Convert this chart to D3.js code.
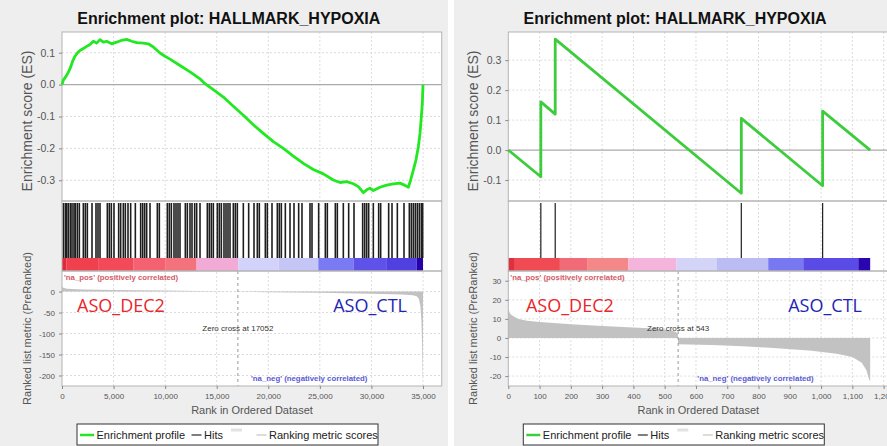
<!DOCTYPE html>
<html>
<head>
<meta charset="utf-8">
<script src="https://cdn.jsdelivr.net/npm/d3@7"></script>
<style>
  body { margin: 0; background: #ffffff; }
  svg { display: block; }
</style>
</head>
<body>
<svg id="chart" width="887" height="446"></svg>
<script>
// GSEA enrichment plots for HALLMARK_HYPOXIA, two pre-ranked lists (ASO_DEC2 vs ASO_CTL)
const titleText = "Enrichment plot: HALLMARK_HYPOXIA";

// ---------- Panel 1: full ranked list ----------
const leftListSize = 35000;
const leftXMax = 36813;
const leftXTicks = [0, 5000, 10000, 15000, 20000, 25000, 30000, 35000];
const leftEsTicks = [0.1, 0.0, -0.1, -0.2, -0.3];
const leftMetricTicks = [0, -50, -100, -150, -200];
const leftZeroCross = 17052;

const leftEsRanks = [0, 129, 452, 679, 840, 1034, 1260, 1487, 1745, 2068, 2391, 2715, 3038, 3361, 3684,
  4007, 4331, 4815, 5300, 5785, 6270, 6754, 7239, 7885, 8370, 8855, 9501, 9986, 10471, 11440, 12410,
  13380, 13864, 14672, 15642, 16611, 17581, 18550, 19520, 20489, 21459, 22428, 23398, 24367, 25337,
  26306, 26952, 27599, 28245, 28730, 29215, 29538, 29861, 30185, 30831, 31477, 32124, 32770, 33255,
  33578, 33804, 34063, 34321, 34548, 34710, 34839, 34936, 35000];
const leftEsValues = [0.0, 0.014, 0.029, 0.043, 0.055, 0.074, 0.089, 0.099, 0.107, 0.113, 0.120, 0.126,
  0.136, 0.130, 0.141, 0.133, 0.136, 0.128, 0.133, 0.139, 0.142, 0.136, 0.132, 0.130, 0.128, 0.118,
  0.099, 0.089, 0.080, 0.060, 0.040, 0.018, 0.003, -0.016, -0.039, -0.068, -0.096, -0.126, -0.153,
  -0.179, -0.200, -0.224, -0.247, -0.266, -0.280, -0.299, -0.307, -0.304, -0.311, -0.320, -0.339,
  -0.330, -0.325, -0.332, -0.322, -0.315, -0.311, -0.309, -0.316, -0.322, -0.299, -0.268, -0.236,
  -0.195, -0.153, -0.101, -0.059, 0.0];

const leftHitRanks = [129, 323, 452, 614, 808, 970, 1163, 1293, 1487, 1681, 2068, 2262, 2456, 2909,
  3296, 3490, 3684, 4395, 4589, 4783, 5042, 5494, 5688, 5946, 6140, 6399, 6657, 7110, 7627, 7821,
  8015, 8209, 8532, 9243, 9437, 10212, 10406, 10600, 10859, 11053, 11247, 11440, 11958, 12151,
  12410, 12604, 12862, 13056, 13380, 14090, 14284, 14478, 14672, 15060, 15254, 15448, 15706, 15900,
  16094, 16288, 16611, 16805, 16999, 17581, 18098, 18615, 18938, 19132, 19714, 19907, 20360, 20877,
  21071, 21265, 21653, 22105, 22493, 22945, 23268, 24044, 24238, 24884, 25531, 25725, 26500, 26694,
  27276, 27793, 28310, 29150, 29344, 29538, 29732, 30185, 30702, 30896, 31671, 31995, 32512, 33158,
  33675, 33869, 34063, 34257, 34451, 34645, 34839, 34968];

const leftMetricRanks = [0, 100, 500, 2000, 5000, 10000, 15000, 17051, 17052, 20000, 25000, 30000,
  33000, 34000, 34400, 34600, 34750, 34850, 34920, 34970, 35000];
const leftMetricValues = [13, 9, 7, 5, 4, 2.5, 1, 0.3, -0.5, -1.5, -3, -5, -7, -9, -11, -18, -35,
  -70, -130, -190, -212];

const leftBarStarts = [0, 450, 3500, 6900, 10000, 13050, 17100, 21000, 24850, 28250, 31500, 34400];
const leftBarColors = ["#e02a3a", "#f0404e", "#f24a58", "#f46272", "#f4727e", "#f2aad6", "#d2d2fa",
  "#c6c6f6", "#7a7af2", "#5e52e8", "#5040e0", "#2600a8"];

// ---------- Panel 2: filtered ranked list ----------
const rightListSize = 1157;
const rightXMax = 1214;
const rightXTicks = [0, 100, 200, 300, 400, 500, 600, 700, 800, 900, 1000, 1100, 1200];
const rightEsTicks = [0.3, 0.2, 0.1, 0.0, -0.1];
const rightMetricTicks = [30, 20, 10, 0, -10, -20];
const rightZeroCross = 543;

const rightEsRanks = [0, 104, 104, 150, 150, 745, 745, 1005, 1005, 1157];
const rightEsValues = [0.0, -0.089, 0.161, 0.12, 0.37, -0.144, 0.106, -0.119, 0.13, 0.0];

const rightHitRanks = [104, 150, 745, 1005];

const rightMetricRanks = [0, 5, 10, 30, 60, 100, 200, 300, 400, 480, 530, 542, 543, 650, 750, 860,
  970, 1050, 1100, 1130, 1145, 1152, 1157];
const rightMetricValues = [15.5, 13, 12, 10, 9, 8.4, 7.2, 6.3, 5.5, 4.8, 3.5, 2.5, -3.3, -3.7, -4.3,
  -5.4, -6.7, -8.3, -10, -13, -17, -21, -23];

const rightBarStarts = [0, 21, 165, 254, 384, 538, 666, 831, 943, 1119];
const rightBarColors = ["#e03040", "#f04a52", "#f06a78", "#f48888", "#f4b4dc", "#d4d4f8", "#bcbcf4",
  "#7878f0", "#5a4ae6", "#2a06b0"];

// ---------- Shared layout ----------
const L = { left: 62, right: 441.7, esTop: 32, esBot: 201, hitTop: 203, barTop: 258, barBot: 271, rankBot: 386 };
const fmtLocale = d3.formatLocale({ decimal: ".", thousands: ",", grouping: [3], currency: ["", ""], minus: "-" });
const fmtEs = fmtLocale.format(".1f");
const fmtRank = fmtLocale.format(",d");
const fmtMetric = fmtLocale.format("d");
const sans = "'Liberation Sans', Arial, sans-serif";

const svg = d3.select("#chart");

function drawPanel(p) {
  const g = svg.append("g").attr("transform", `translate(${p.dx},0)`);
  g.append("rect").attr("x", p.bgX).attr("y", 0).attr("width", p.bgW).attr("height", 446).attr("fill", "#eeeeee");

  const x = d3.scaleLinear().domain([0, p.xMax]).range([L.left, L.right]);
  const yEs = d3.scaleLinear().domain(p.esDomain).range([L.esBot, L.esTop]);
  const yM = d3.scaleLinear().domain(p.metricDomain).range([L.rankBot, L.barBot]);

  // white plotting area
  g.append("rect").attr("x", L.left).attr("y", L.esTop).attr("width", L.right - L.left)
    .attr("height", L.rankBot - L.esTop).attr("fill", "#ffffff");

  // dashed grid
  const grid = g.append("g").attr("stroke", "#dcdcdc").attr("stroke-dasharray", "2,2").attr("stroke-width", 1);
  grid.selectAll(".vx").data(p.xTicks.filter(t => t > 0)).join("line")
    .attr("x1", d => x(d)).attr("x2", d => x(d)).attr("y1", L.esTop).attr("y2", L.rankBot);
  grid.selectAll(".hy").data(p.esTicks.filter(t => t !== 0)).join("line")
    .attr("x1", L.left).attr("x2", L.right).attr("y1", d => yEs(d)).attr("y2", d => yEs(d));
  grid.selectAll(".hm").data(p.metricTicks).join("line")
    .attr("x1", L.left).attr("x2", L.right).attr("y1", d => yM(d)).attr("y2", d => yM(d));

  // zero line of the enrichment score
  g.append("line").attr("x1", L.left).attr("x2", L.right).attr("y1", yEs(0)).attr("y2", yEs(0))
    .attr("stroke", "#aaaaaa").attr("stroke-width", 1.2);

  // ranking metric scores
  const metric = p.metricRanks.map((r, i) => [r, p.metricValues[i]]);
  g.append("path").datum(metric)
    .attr("d", d3.area().x(d => x(d[0])).y0(yM(0)).y1(d => yM(d[1])))
    .attr("fill", "#c2c2c2");

  // zero-cross marker
  g.append("line").attr("x1", x(p.zeroCross)).attr("x2", x(p.zeroCross))
    .attr("y1", L.barBot).attr("y2", L.rankBot)
    .attr("stroke", "#999").attr("stroke-dasharray", "3,3");

  // hits
  g.append("g").selectAll("line").data(p.hitRanks).join("line")
    .attr("x1", d => x(d)).attr("x2", d => x(d)).attr("y1", L.hitTop).attr("y2", L.barTop)
    .attr("stroke", "#1e1e1e").attr("stroke-width", p.hitWidth);

  // colour bar of the ranked list
  g.append("g").selectAll("rect").data(p.barStarts).join("rect")
    .attr("x", d => x(d))
    .attr("width", (d, i) => x(i + 1 < p.barStarts.length ? p.barStarts[i + 1] : p.listSize) - x(d))
    .attr("y", L.barTop).attr("height", L.barBot - L.barTop)
    .attr("fill", (d, i) => p.barColors[i]);

  // borders
  const bord = g.append("g").attr("fill", "none").attr("stroke", "#b4b4b4");
  bord.append("rect").attr("x", L.left).attr("y", L.esTop).attr("width", L.right - L.left).attr("height", L.esBot - L.esTop);
  bord.append("rect").attr("x", L.left).attr("y", L.esBot).attr("width", L.right - L.left).attr("height", L.barBot - L.esBot);
  bord.append("rect").attr("x", L.left).attr("y", L.barBot).attr("width", L.right - L.left).attr("height", L.rankBot - L.barBot);

  // enrichment profile
  const es = p.esRanks.map((r, i) => [r, p.esValues[i]]);
  g.append("path").datum(es)
    .attr("d", d3.line().x(d => x(d[0])).y(d => yEs(d[1])))
    .attr("fill", "none").attr("stroke", p.esColor).attr("stroke-width", 2.8).attr("stroke-linejoin", "round");

  // axes
  const styleAxis = (sel, size) => {
    sel.select(".domain").remove();
    sel.selectAll(".tick line").attr("stroke", "#888");
    sel.selectAll(".tick text").attr("fill", "#555").style("font-family", sans).style("font-size", size + "px");
  };
  g.append("g").attr("transform", `translate(${L.left},0)`)
    .call(d3.axisLeft(yEs).tickValues(p.esTicks).tickFormat(fmtEs).tickSize(3).tickPadding(4))
    .call(s => styleAxis(s, 10.5));
  g.append("g").attr("transform", `translate(${L.left},0)`)
    .call(d3.axisLeft(yM).tickValues(p.metricTicks).tickFormat(fmtMetric).tickSize(3).tickPadding(4))
    .call(s => styleAxis(s, 8));
  g.append("g").attr("transform", `translate(0,${L.rankBot})`)
    .call(d3.axisBottom(x).tickValues(p.xTicks).tickFormat(fmtRank).tickSize(3).tickPadding(4))
    .call(s => styleAxis(s, 8));

  // titles and labels
  g.append("text").attr("x", 228.8).attr("y", 23.5).attr("text-anchor", "middle")
    .style("font-family", sans).style("font-weight", "bold").style("font-size", "16px").attr("fill", "#111")
    .text(titleText);
  g.append("text").attr("transform", "translate(31.5,121) rotate(-90)").attr("text-anchor", "middle")
    .style("font-family", sans).style("font-size", "14px").attr("fill", "#555").text("Enrichment score (ES)");
  g.append("text").attr("transform", "translate(31,328.5) rotate(-90)").attr("text-anchor", "middle")
    .style("font-family", sans).style("font-size", "11px").attr("fill", "#555").text("Ranked list metric (PreRanked)");
  g.append("text").attr("x", 252).attr("y", 413.5).attr("text-anchor", "middle")
    .style("font-family", sans).style("font-size", "11px").attr("fill", "#555").text("Rank in Ordered Dataset");

  g.append("text").attr("x", 64).attr("y", 279.5)
    .style("font-family", sans).style("font-weight", "bold").style("font-size", "7.8px").attr("fill", "#d45a66")
    .text("'na_pos' (positively correlated)");
  g.append("text").attr("x", 251).attr("y", 380.5)
    .style("font-family", sans).style("font-weight", "bold").style("font-size", "7.8px").attr("fill", "#5a5ad4")
    .text("'na_neg' (negatively correlated)");
  g.append("text").attr("x", x(p.zeroCross)).attr("y", 331).attr("text-anchor", "middle")
    .style("font-family", sans).style("font-size", "8px").attr("fill", "#333").text("Zero cross at " + p.zeroCross);

  g.append("text").attr("x", p.posLabelX).attr("y", 311.5)
    .style("font-family", "'Open Sans', sans-serif").style("font-size", "18px").attr("fill", "#e8262b").text("ASO_DEC2");
  g.append("text").attr("x", p.negLabelX).attr("y", 311.5).attr("text-anchor", "end")
    .style("font-family", "'Open Sans', sans-serif").style("font-size", "18px").attr("fill", "#2424b4").text("ASO_CTL");

  // legend
  const lg = g.append("g");
  lg.append("rect").attr("x", 77).attr("y", 424).attr("width", 301).attr("height", 21)
    .attr("fill", "#ffffff").attr("stroke", "#333");
  lg.append("line").attr("x1", 80).attr("x2", 94).attr("y1", 435).attr("y2", 435).attr("stroke", p.esColor).attr("stroke-width", 2.5);
  lg.append("text").attr("x", 96.5).attr("y", 439).style("font-family", sans).style("font-size", "11px").attr("fill", "#222").text("Enrichment profile");
  lg.append("line").attr("x1", 191.5).attr("x2", 201.5).attr("y1", 435).attr("y2", 435).attr("stroke", "#555").attr("stroke-width", 1.5);
  lg.append("text").attr("x", 204).attr("y", 439).style("font-family", sans).style("font-size", "11px").attr("fill", "#222").text("Hits");
  lg.append("line").attr("x1", 231).attr("x2", 242).attr("y1", 430).attr("y2", 430).attr("stroke", "#e2e2e2").attr("stroke-width", 3);
  lg.append("line").attr("x1", 256.5).attr("x2", 266.5).attr("y1", 435).attr("y2", 435).attr("stroke", "#d0d0d0").attr("stroke-width", 1.5);
  lg.append("text").attr("x", 269).attr("y", 439).style("font-family", sans).style("font-size", "11px").attr("fill", "#222").text("Ranking metric scores");
}

drawPanel({
  dx: 0, bgX: 0, bgW: 448,
  listSize: leftListSize, xMax: leftXMax, xTicks: leftXTicks,
  esDomain: [-0.365, 0.165], esTicks: leftEsTicks, esRanks: leftEsRanks, esValues: leftEsValues,
  metricDomain: [-225, 49], metricTicks: leftMetricTicks, metricRanks: leftMetricRanks, metricValues: leftMetricValues,
  hitRanks: leftHitRanks, barStarts: leftBarStarts, barColors: leftBarColors, zeroCross: leftZeroCross,
  esColor: "#22e822", hitWidth: 1.6, posLabelX: 77, negLabelX: 407
});

drawPanel({
  dx: 446.3, bgX: 7.7, bgW: 441,
  listSize: rightListSize, xMax: rightXMax, xTicks: rightXTicks,
  esDomain: [-0.17, 0.394], esTicks: rightEsTicks, esRanks: rightEsRanks, esValues: rightEsValues,
  metricDomain: [-25.2, 35.1], metricTicks: rightMetricTicks, metricRanks: rightMetricRanks, metricValues: rightMetricValues,
  hitRanks: rightHitRanks, barStarts: rightBarStarts, barColors: rightBarColors, zeroCross: rightZeroCross,
  esColor: "#3ccc3c", hitWidth: 1.2, posLabelX: 79.7, negLabelX: 415.7
});
</script>
</body>
</html>
